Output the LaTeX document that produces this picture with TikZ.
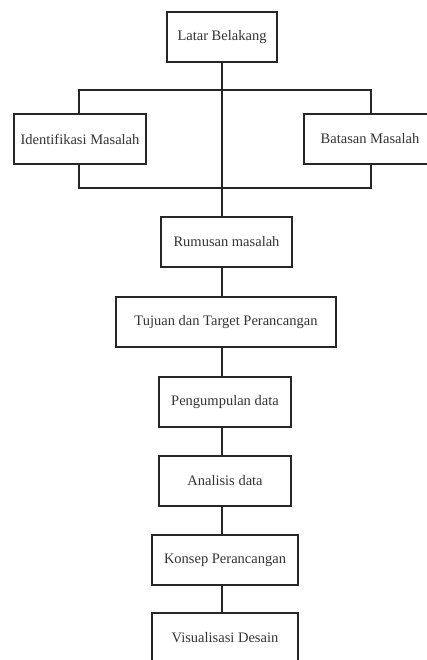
\documentclass[tikz,border=0pt]{standalone}
\usepackage{fontspec}
\setmainfont{Liberation Serif}
\begin{document}
\begin{tikzpicture}[x=1pt,y=-1pt,
  box/.style={draw=black!85, line width=1.6pt, fill=white, text=black!80,
    minimum height=50pt, inner sep=0pt, font=\fontsize{14.5}{16}\selectfont},
  link/.style={draw=black!85, line width=1.6pt}]
\useasboundingbox (0,0) rectangle (427,660);
\clip (0,0) rectangle (427,660);
\coordinate (spine) at (222,0);
\node[box, minimum width=110pt] (latar) at (222,37) {Latar Belakang};
\node[box, minimum width=132pt] (ident) at (80,139) {Identifikasi Masalah};
\node[box, minimum width=132pt] (batas) at (370,139) {Batasan Masalah};
\node[box, minimum width=131pt] (rumus) at (226.5,242) {Rumusan masalah};
\node[box, minimum width=220pt] (tujuan) at (226,322) {Tujuan dan Target Perancangan};
\node[box, minimum width=132pt] (kumpul) at (225,402) {Pengumpulan data};
\node[box, minimum width=132pt] (anal) at (225,481) {Analisis data};
\node[box, minimum width=146pt] (konsep) at (225,560) {Konsep Perancangan};
\node[box, minimum width=146pt] (visual) at (225,638) {Visualisasi Desain};
\coordinate (topL) at (79,90);
\coordinate (topR) at (371,90);
\coordinate (botL) at (79,188);
\coordinate (botR) at (371,188);
\draw[link] (latar.south) -- (rumus.north -| spine);
\draw[link] (ident.north -| topL) -- (topL) -- (topR) -- (batas.north -| topR);
\draw[link] (ident.south -| botL) -- (botL) -- (botR) -- (batas.south -| botR);
\draw[link] (rumus.south -| spine) -- (tujuan.north -| spine);
\draw[link] (tujuan.south -| spine) -- (kumpul.north -| spine);
\draw[link] (kumpul.south -| spine) -- (anal.north -| spine);
\draw[link] (anal.south -| spine) -- (konsep.north -| spine);
\draw[link] (konsep.south -| spine) -- (visual.north -| spine);
\end{tikzpicture}
\end{document}
